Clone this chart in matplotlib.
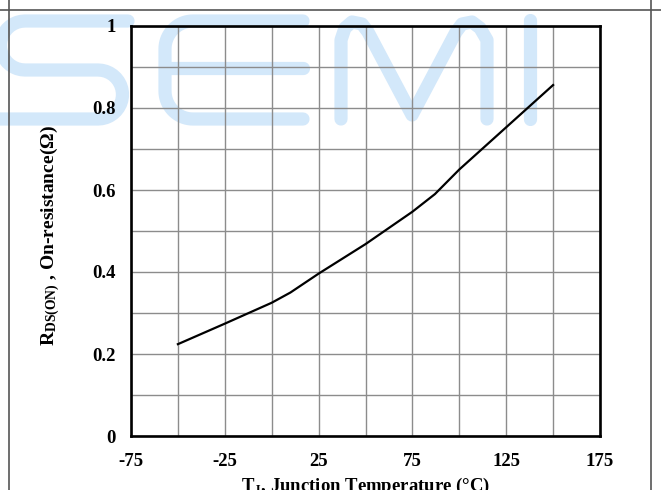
import numpy as np
import matplotlib
matplotlib.use("Agg")
import matplotlib.pyplot as plt
from matplotlib.lines import Line2D

plt.rcParams['font.family'] = ['Liberation Serif', 'DejaVu Serif']
plt.rcParams['font.weight'] = 'bold'
plt.rcParams['axes.labelweight'] = 'bold'
plt.rcParams['axes.unicode_minus'] = False
plt.rcParams['mathtext.fontset'] = 'custom'
plt.rcParams['mathtext.rm'] = 'Liberation Serif:bold'
plt.rcParams['mathtext.bf'] = 'Liberation Serif:bold'
plt.rcParams['mathtext.it'] = 'Liberation Serif:bold'

# Tj (degC) vs RDS(ON) (ohm)
temps = [-50, -25, 0, 10, 25, 50, 75, 87, 100, 125, 150]
rdson = [0.224, 0.274, 0.325, 0.35, 0.396, 0.468, 0.547, 0.59, 0.650, 0.753, 0.856]

x_ticks = [-75, -25, 25, 75, 125, 175]
y_ticks = [0, 0.2, 0.4, 0.6, 0.8, 1]
y_tick_labels = ['0', '0.2', '0.4', '0.6', '0.8', '1']

W, H = 661, 490
fig = plt.figure(figsize=(W / 100, H / 100), dpi=100)


def px(xs, ys):
    # pixel coords (origin top-left) -> figure fraction
    return [x / W for x in xs], [1 - y / H for y in ys]


def arc(cx, cy, r, a0, a1, n=20):
    a = np.radians(np.linspace(a0, a1, n))
    return list(cx + r * np.cos(a)), list(cy - r * np.sin(a))


def wm(xs, ys):
    fx, fy = px(xs, ys)
    fig.add_artist(Line2D(fx, fy, transform=fig.transFigure, color='#d3e8fa',
                          lw=9.5, solid_capstyle='round', solid_joinstyle='round',
                          zorder=-1))


# watermark "SEMI"
ax_, ay_ = arc(25, 45.5, 24.5, 90, 270)
bx_, by_ = arc(98, 94.5, 24.5, 90, -90)
wm([128] + ax_ + [98] + bx_ + [-10], [21] + ay_ + [70] + by_ + [119])
ex1, ey1 = arc(193, 49, 28, 90, 180)
ex2, ey2 = arc(193, 91, 28, 180, 270)
wm([303] + ex1 + ex2 + [303], [21] + ey1 + ey2 + [119])
wm([165, 303], [68, 68])
wm([341, 341, 345, 352, 362, 368, 412, 456, 462, 472, 480, 487, 487],
   [119, 40, 28, 22, 24, 32, 115, 32, 24, 22, 28, 40, 119])
wm([530, 530], [20, 119])

# page frame
for xs, ys in (([0, W], [10, 10]), ([9, 9], [0, H]), ([651, 651], [0, H])):
    fx, fy = px(xs, ys)
    fig.add_artist(Line2D(fx, fy, transform=fig.transFigure, color='#555555', lw=1.2))

# title sits mostly above the page, only descenders show
fig.text(330 / W, 1 + 7 / H, 'Figure 9: Typical Rdson Changing vs Temperature',
         ha='center', va='baseline', fontsize=14, fontweight='bold')

ax = fig.add_axes([131 / W, 1 - 436 / H, 469 / W, 410 / H])
ax.patch.set_alpha(0)
ax.plot(temps, rdson, color='black', lw=1.6, zorder=3)

ax.set_xlim(-75, 175)
ax.set_ylim(0, 1)
ax.set_xticks(np.arange(-75, 176, 25), minor=True)
ax.set_yticks(np.arange(0, 1.01, 0.1), minor=True)
ax.set_xticks(x_ticks)
ax.set_yticks(y_ticks)
ax.set_yticklabels(y_tick_labels)
ax.grid(True, which='both', color='#8c8c8c', lw=1.0)
ax.tick_params(which='both', length=0)
ax.tick_params(axis='x', pad=12, labelsize=13.5)
ax.tick_params(axis='y', pad=11, labelsize=13.5)
for s in ax.spines.values():
    s.set_linewidth(1.9)
    s.set_zorder(4)

ax.set_ylabel(r'R$_{\mathrm{DS(ON)}}$ , On-resistance($\Omega$)', fontsize=14)
ax.yaxis.set_label_coords(-0.147, 0.488)
ax.set_xlabel(r'T$_{\mathrm{J}}$, Junction Temperature (°C)', fontsize=13.5)
ax.xaxis.set_label_coords(0.5, -0.097)

fig.savefig('out.png', dpi=100)
